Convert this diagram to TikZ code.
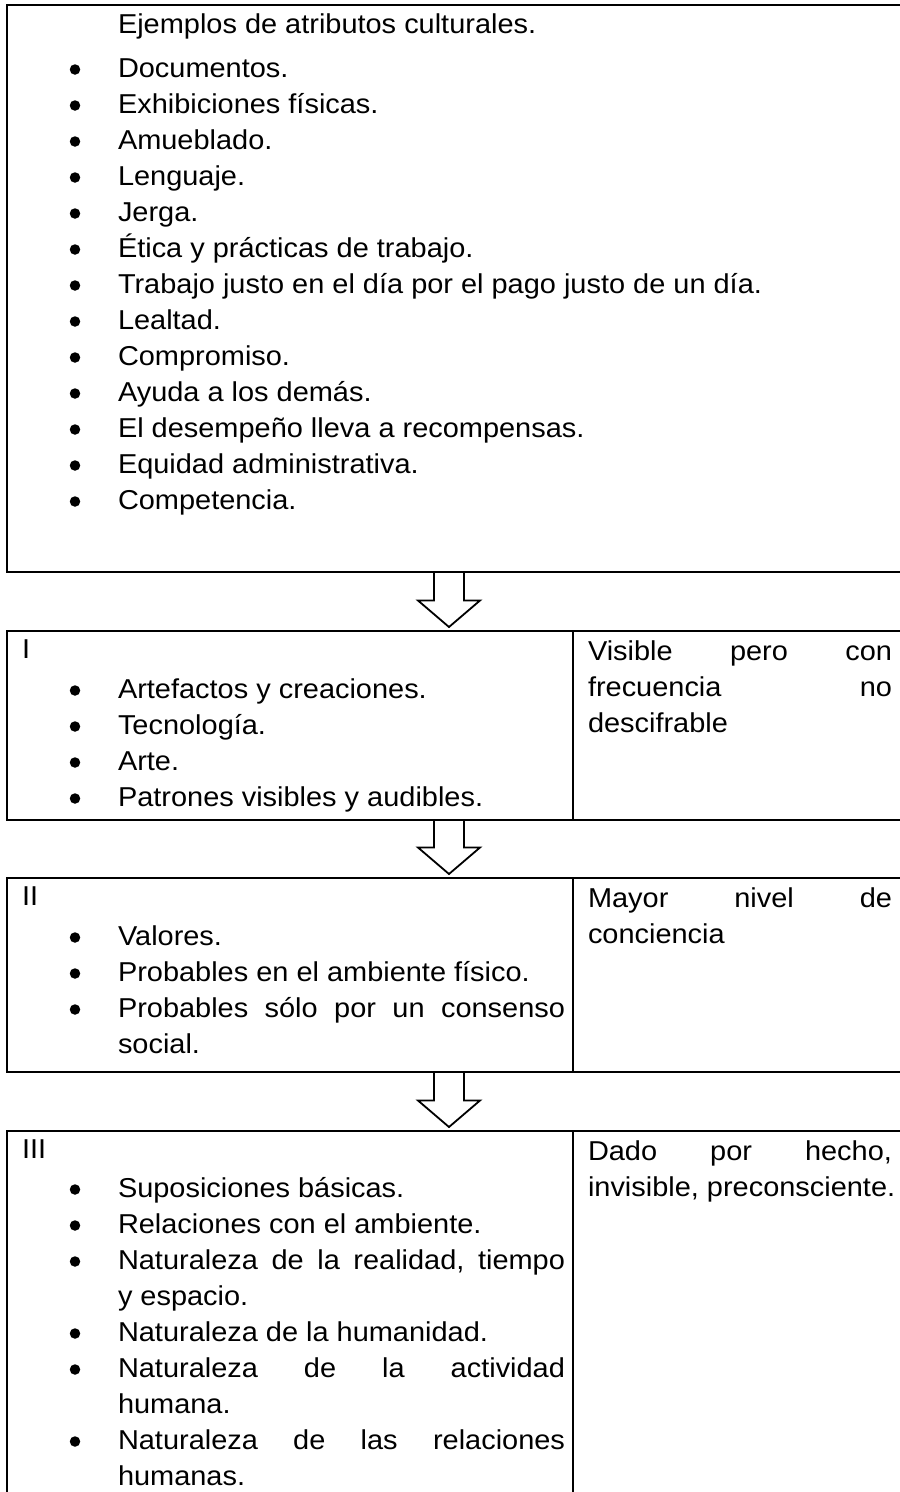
\documentclass[tikz,border=0pt]{standalone}
\usepackage{fontspec}
\setmainfont{Liberation Sans}[FakeStretch=1.06]
\usetikzlibrary{calc}

\tikzset{
  frame/.style={draw, line width=2.3pt, inner sep=0pt, outer sep=0pt, anchor=north west},
  divider/.style={line width=2.3pt},
  txt/.style={anchor=base west, inner sep=0pt, outer sep=0pt, font=\fontsize{27.3}{36}\selectfont},
  dot/.style={circle, fill=black, draw=none, inner sep=0pt, minimum size=10.5pt},
  blockarrow/.style={draw=black, fill=white, line width=1.8pt, line join=miter},
}

% bulleted line: name, baseline y, text
\newcommand\bitem[3]{%
  \node[dot] (#1b) at (75,#2-7.5) {};
  \node[txt] (#1) at (118,#2) {#3};}
% continuation line of a bullet (no dot)
\newcommand\citem[3]{\node[txt] (#1) at (118,#2) {#3};}
% line in the right-hand column
\newcommand\ritem[3]{\node[txt] (#1) at (588,#2) {#3};}
% hollow block arrow from the box above to the box below
\newcommand\flowarrow[2]{%
  \path let \p1=($(#1.south west)+(442,0)$),
            \p2=($(#2.north west)+(442,-4)$) in
    [blockarrow] (\x1-15pt,\y1) -- (\x1-15pt,\y2+26.5pt)
      -- (\x1-31pt,\y2+26.5pt) -- (\p2) -- (\x1+31pt,\y2+26.5pt)
      -- (\x1+15pt,\y2+26.5pt) -- (\x1+15pt,\y1) -- cycle;}

\begin{document}
\begin{tikzpicture}[x=1pt,y=-1pt]
\useasboundingbox (0,0) rectangle (900,1492);
\fill[white] (0,0) rectangle (900,1492);
\clip (0,0) rectangle (900,1492);

% boxes (their right and lower edges run past the page)
\node[frame, minimum width=903pt, minimum height=567pt] (ex) at (7,5) {};
\node[frame, minimum width=903pt, minimum height=189pt] (r1) at (7,631) {};
\node[frame, minimum width=903pt, minimum height=194pt] (r2) at (7,878) {};
\node[frame, minimum width=903pt, minimum height=400pt] (r3) at (7,1131) {};

% column dividers
\foreach \r in {r1,r2,r3}
  \draw[divider] ($(\r.north west)+(566,0)$) -- ($(\r.south west)+(566,0)$);

% arrows between the boxes
\flowarrow{ex}{r1}
\flowarrow{r1}{r2}
\flowarrow{r2}{r3}

% examples box
\node[txt] (ex0) at (118,33) {Ejemplos de atributos culturales.};
\bitem{ex1}{77}{Documentos.}
\bitem{ex2}{113}{Exhibiciones físicas.}
\bitem{ex3}{149}{Amueblado.}
\bitem{ex4}{185}{Lenguaje.}
\bitem{ex5}{221}{Jerga.}
\bitem{ex6}{257}{Ética y prácticas de trabajo.}
\bitem{ex7}{293}{Trabajo justo en el día por el pago justo de un día.}
\bitem{ex8}{329}{Lealtad.}
\bitem{ex9}{365}{Compromiso.}
\bitem{ex10}{401}{Ayuda a los demás.}
\bitem{ex11}{437}{El desempeño lleva a recompensas.}
\bitem{ex12}{473}{Equidad administrativa.}
\bitem{ex13}{509}{Competencia.}

% level I
\node[txt] (l1) at (22,658) {I};
\bitem{a1}{698}{Artefactos y creaciones.}
\bitem{a2}{734}{Tecnología.}
\bitem{a3}{770}{Arte.}
\bitem{a4}{806}{Patrones visibles y audibles.}
\ritem{ra1}{660}{\hbox to 304pt{Visible\hfill pero\hfill con}}
\ritem{ra2}{696}{\hbox to 304pt{frecuencia\hfill no}}
\ritem{ra3}{732}{descifrable}

% level II
\node[txt] (l2) at (22,905) {II};
\bitem{b1}{945}{Valores.}
\bitem{b2}{981}{Probables en el ambiente físico.}
\bitem{b3}{1017}{\hbox to 447pt{Probables\hfill sólo\hfill por\hfill un\hfill consenso}}
\citem{b3c}{1053}{social.}
\ritem{rb1}{907}{\hbox to 304pt{Mayor\hfill nivel\hfill de}}
\ritem{rb2}{943}{conciencia}

% level III
\node[txt] (l3) at (22,1158) {III};
\bitem{c1}{1197}{Suposiciones básicas.}
\bitem{c2}{1233}{Relaciones con el ambiente.}
\bitem{c3}{1269}{\hbox to 447pt{Naturaleza\hfill de\hfill la\hfill realidad,\hfill tiempo}}
\citem{c3c}{1305}{y espacio.}
\bitem{c4}{1341}{Naturaleza de la humanidad.}
\bitem{c5}{1377}{\hbox to 447pt{Naturaleza\hfill de\hfill la\hfill actividad}}
\citem{c5c}{1413}{humana.}
\bitem{c6}{1449}{\hbox to 447pt{Naturaleza\hfill de\hfill las\hfill relaciones}}
\citem{c6c}{1485}{humanas.}
\ritem{rc1}{1160}{\hbox to 304pt{Dado\hfill por\hfill hecho,}}
\ritem{rc2}{1196}{invisible, preconsciente.}
\end{tikzpicture}
\end{document}
